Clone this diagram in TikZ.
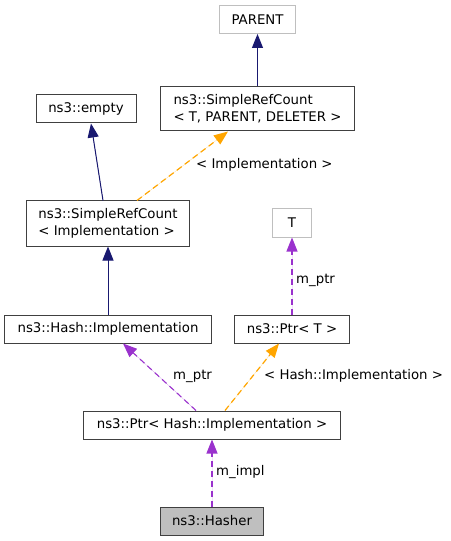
\documentclass[tikz,border=0pt]{standalone}
\usepackage{fontspec}
\setmainfont{DejaVu Sans}
\usetikzlibrary{arrows.meta}
\definecolor{navyc}{RGB}{25,25,112}
\definecolor{orangec}{RGB}{255,165,0}
\definecolor{purplec}{RGB}{154,50,205}
\definecolor{grayc}{RGB}{191,191,191}
\tikzset{
  box/.style={draw=black!75, line width=1bp, rectangle, inner sep=0pt, minimum height=28bp, align=left, font=\fontsize{13.3bp}{17bp}\selectfont},
  graybox/.style={box, draw=grayc},
  lbl/.style={anchor=west, inner sep=0pt, font=\fontsize{13.3bp}{17bp}\selectfont},
  tip/.style={-{Triangle[length=14bp,width=11bp]}},
  inherit/.style={tip, draw=navyc, fill=navyc, line width=1bp},
  tmpl/.style={tip, draw=orangec, fill=orangec, line width=1.2bp, dash pattern=on 6bp off 4bp},
  usage/.style={tip, draw=purplec, fill=purplec, line width=1.1bp, dash pattern=on 6bp off 4bp},
}
\begin{document}
\begin{tikzpicture}[x=1bp,y=-1bp]
\useasboundingbox (0,0) rectangle (451,541);
\node[graybox, minimum width=76bp] (parent) at (257.5,19.5) {PARENT};
\node[box, minimum width=194bp, minimum height=44bp] (srcTPD) at (257.5,109) {ns3::SimpleRefCount\\< T, PARENT, DELETER >};
\node[box, minimum width=100bp] (empty) at (86,109) {ns3::empty};
\node[box, minimum width=162bp, minimum height=45bp] (srcImpl) at (108,223.5) {ns3::SimpleRefCount\\< Implementation >};
\node[graybox, minimum width=39bp] (T) at (292,223) {T};
\node[box, minimum width=207bp] (hashImpl) at (108,329) {ns3::Hash::Implementation};
\node[box, minimum width=115bp] (ptrT) at (292,329) {ns3::Ptr< T >};
\node[box, minimum width=257bp] (ptrHash) at (212,425) {ns3::Ptr< Hash::Implementation >};
\node[box, minimum width=103bp, fill=grayc] (hasher) at (212,521) {ns3::Hasher};

\draw[inherit] (srcTPD.north) -- (parent.south);
\draw[inherit] ([xshift=-5bp]srcImpl.north) -- ([xshift=5bp]empty.south);
\draw[tmpl] ([xshift=29bp]srcImpl.north) -- ([xshift=-29.5bp]srcTPD.south);
\draw[inherit] (hashImpl.north) -- (hashImpl.north |- srcImpl.south);
\draw[usage] (ptrT.north) -- (T.south);
\draw[usage] ([xshift=-16bp]ptrHash.north) -- ([xshift=15bp]hashImpl.south);
\draw[tmpl] ([xshift=13bp]ptrHash.north) -- ([xshift=-13bp]ptrT.south);
\draw[usage] (hasher.north) -- (ptrHash.south);

\node[lbl] (l1) at (196,165) {< Implementation >};
\node[lbl] (l2) at (296,280) {m\_ptr};
\node[lbl] (l3) at (173,376) {m\_ptr};
\node[lbl] (l4) at (264,376) {< Hash::Implementation >};
\node[lbl] (l5) at (216,472) {m\_impl};
\end{tikzpicture}
\end{document}
